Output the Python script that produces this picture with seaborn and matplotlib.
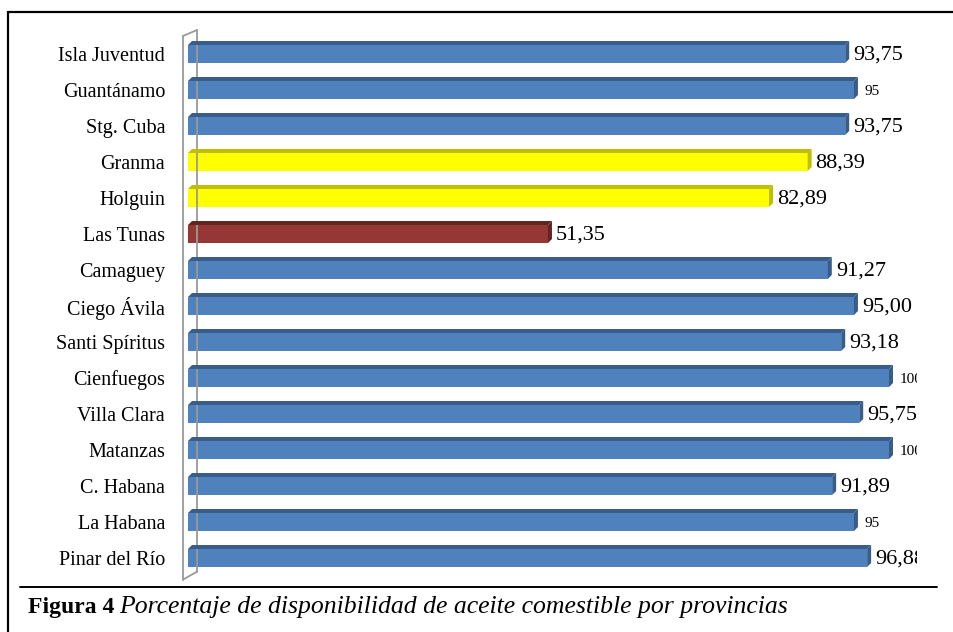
import matplotlib
matplotlib.use("Agg")
import matplotlib.pyplot as plt
from matplotlib.patches import Polygon, Rectangle
from matplotlib.lines import Line2D
import seaborn as sns
import pandas as pd

provincias = ["Isla Juventud", "Guantánamo", "Stg. Cuba", "Granma", "Holguin",
              "Las Tunas", "Camaguey", "Ciego Ávila", "Santi Spíritus", "Cienfuegos",
              "Villa Clara", "Matanzas", "C. Habana", "La Habana", "Pinar del Río"]
valores = [93.75, 95, 93.75, 88.39, 82.89, 51.35, 91.27, 95.00, 93.18, 100,
           95.75, 100, 91.89, 95, 96.88]
etiquetas = ["93,75", "95", "93,75", "88,39", "82,89", "51,35", "91,27", "95,00",
             "93,18", "100", "95,75", "100", "91,89", "95", "96,88"]
grupo = ["ok", "ok", "ok", "medio", "medio", "bajo", "ok", "ok", "ok", "ok",
         "ok", "ok", "ok", "ok", "ok"]

frente = {"ok": "#4F81BD", "medio": "#FFFF00", "bajo": "#953735"}
sombra = {"ok": "#385D8A", "medio": "#BFBF00", "bajo": "#632523"}

df = pd.DataFrame({"provincia": provincias, "valor": valores, "grupo": grupo})

sns.set_theme(style="white")
plt.rcParams["font.family"] = ["Liberation Serif", "DejaVu Serif"]
plt.rcParams["text.color"] = "black"
plt.rcParams["ytick.color"] = "black"

W, H = 954, 632
fig = plt.figure(figsize=(W / 100, H / 100), dpi=100)
fig.patch.set_facecolor("white")

# axes placed so that 0..100 spans the bar area
x0, x1 = 188, 889
y_top, y_bot = 36, 576
ax = fig.add_axes([x0 / W, 1 - y_bot / H, (x1 - x0) / W, (y_bot - y_top) / H])

sns.barplot(data=df, y="provincia", x="valor", hue="grupo", palette=frente,
            order=provincias, orient="h", width=0.5, dodge=False, legend=False,
            saturation=1, linewidth=0, ax=ax)
ax.set_xlim(0, 100)
ax.set_ylim(len(provincias) - 0.5, -0.5)

# pseudo-3D faces: darker top strip and end cap
px_x = 100 / (x1 - x0)
px_y = len(provincias) / (y_bot - y_top)
dx, dy = 4 * px_x, 4 * px_y
for i, (v, g) in enumerate(zip(valores, grupo)):
    top = i - 0.25
    bot = i + 0.25
    ax.add_patch(Polygon([(0, top), (v, top), (v + dx, top - dy), (dx, top - dy)],
                         closed=True, facecolor=sombra[g], edgecolor="none",
                         zorder=3, clip_on=False))
    ax.add_patch(Polygon([(v, top), (v + dx, top - dy), (v + dx, bot - dy), (v, bot)],
                         closed=True, facecolor=sombra[g], edgecolor="none",
                         zorder=3, clip_on=False))

# back wall outline
wall_kw = dict(color="#9a9a9a", lw=1.3, clip_on=False, zorder=1)
wx0, wx1 = -5 * px_x, 9 * px_x
ax.plot([wx0, wx0], [-0.5, len(provincias) - 0.4], **wall_kw)
ax.plot([wx0, wx1], [-0.5, -0.5 - 6 * px_y], **wall_kw)
ax.plot([wx1, wx1], [-0.5 - 6 * px_y, len(provincias) - 0.4 - 8 * px_y], **wall_kw)
ax.plot([wx0, wx1], [len(provincias) - 0.4, len(provincias) - 0.4 - 8 * px_y], **wall_kw)

clip = Rectangle((0, 0), 917 / W, 1, transform=fig.transFigure, visible=False)
fig.add_artist(clip)
for i, (v, t) in enumerate(zip(valores, etiquetas)):
    small = "," not in t
    txt = ax.text(v + dx + (7 if small else 4) * px_x, i + (0.05 if small else 0.03), t,
                  va="center", ha="left",
                  fontsize=11 if small else 16,
                  color="black", zorder=5)
    txt.set_clip_path(clip)
    txt.set_clip_on(True)

ax.set_xlabel("")
ax.set_ylabel("")
ax.set_xticks([])
ax.tick_params(axis="y", length=0, pad=16.5, labelsize=14.5, labelcolor="black")
for s in ax.spines.values():
    s.set_visible(False)
ax.patch.set_alpha(0)

# surrounding frame and caption rule
fig.add_artist(Line2D([8 / W, 1], [1 - 12 / H, 1 - 12 / H], color="black", lw=1.6,
                      transform=fig.transFigure))
fig.add_artist(Line2D([8 / W, 8 / W], [0, 1 - 12 / H], color="black", lw=1.6,
                      transform=fig.transFigure))
fig.add_artist(Line2D([20 / W, 937 / W], [1 - 587 / H, 1 - 587 / H], color="black",
                      lw=1.4, transform=fig.transFigure))

cap_y = 1 - 607 / H
t1 = fig.text(28 / W, cap_y, "Figura 4", fontsize=17, fontweight="bold",
              va="center", ha="left")
renderer = fig.canvas.get_renderer()
bb = t1.get_window_extent(renderer)
fig.text((bb.x1 + 5) / W, cap_y,
         "Porcentaje de disponibilidad de aceite comestible por provincias",
         fontsize=18.5, style="italic", va="center", ha="left")

fig.savefig("out.png", dpi=100)
